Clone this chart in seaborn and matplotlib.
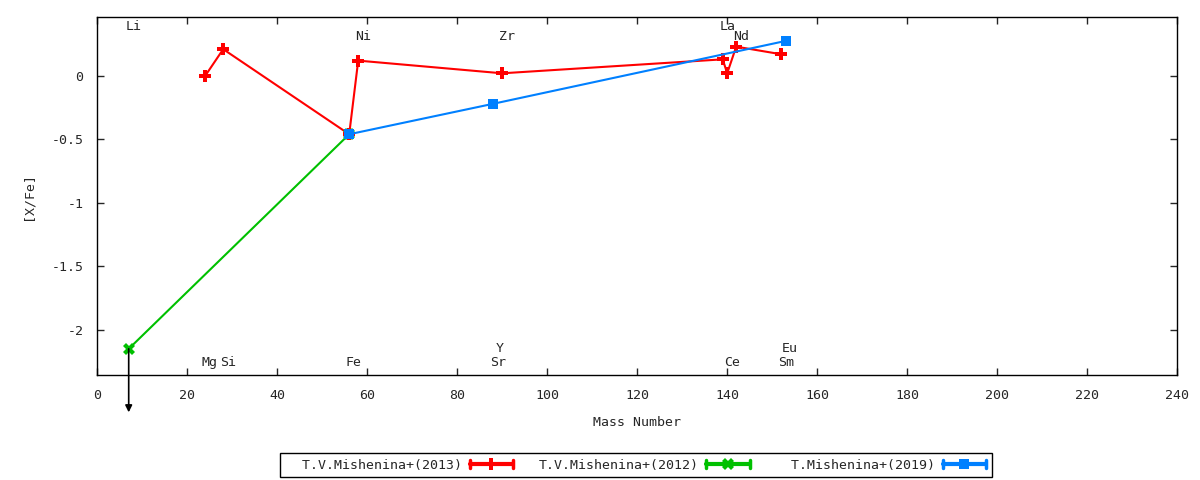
import matplotlib
matplotlib.use('Agg')
import matplotlib.pyplot as plt
import seaborn as sns
from matplotlib.lines import Line2D
from matplotlib.legend_handler import HandlerLine2D

# ---- data ----
mass_2013 = [24, 28, 56, 58, 90, 139, 140, 142, 152]
xfe_2013 = [0.0, 0.21, -0.46, 0.12, 0.02, 0.13, 0.02, 0.23, 0.17]

mass_2012 = [7, 56]
xfe_2012 = [-2.15, -0.46]

mass_2019 = [56, 88, 153]
xfe_2019 = [-0.46, -0.22, 0.275]

# upper limit arrow (Li)
limit_mass = 7
limit_xfe = -2.15
limit_end = -2.65

elem_names = ["Li", "Ni", "Zr", "La", "Nd", "Mg", "Si", "Fe", "Y", "Sr", "Ce", "Eu", "Sm"]
elem_x = [8, 59, 91, 140, 143, 25, 29, 57, 89.5, 89, 141, 154, 153]
elem_y = [0.385, 0.31, 0.31, 0.385, 0.31, -2.26, -2.26, -2.26, -2.15, -2.26, -2.26, -2.15, -2.26]

xticks = list(range(0, 241, 20))
yticks = [0, -0.5, -1, -1.5, -2]
ytick_labels = ["0", "-0.5", "-1", "-1.5", "-2"]


# gnuplot-like errorbar key sample: |---+---|
class CapHandler(HandlerLine2D):
    def create_artists(self, legend, orig_handle, xdescent, ydescent,
                       width, height, fontsize, trans):
        arts = super().create_artists(legend, orig_handle, xdescent, ydescent,
                                      width, height, fontsize, trans)
        for a in arts:
            a.set_linewidth(3)
        y = height / 2 - ydescent
        h = 0.3 * fontsize
        for x in (-xdescent, width - xdescent):
            arts.append(Line2D([x, x], [y - h, y + h], color=orig_handle.get_color(),
                               lw=2.5, transform=trans))
        return arts


sns.set_style("ticks", {"axes.edgecolor": "black", "xtick.direction": "in",
                        "ytick.direction": "in"})
plt.rcParams['font.family'] = ['DejaVu Sans Mono', 'DejaVu Sans']
plt.rcParams['axes.unicode_minus'] = False
FS = 9.5

fig = plt.figure(figsize=(12, 4.8), dpi=100)
ax = fig.add_axes([0.081, 0.219, 0.9, 0.746])

sns.lineplot(x=mass_2013, y=xfe_2013, ax=ax, sort=False, estimator=None,
             color="#ff0000", linewidth=1.5, marker="P", markersize=8,
             markeredgewidth=0, label="  T.V.Mishenina+(2013)")
sns.lineplot(x=mass_2012, y=xfe_2012, ax=ax, sort=False, estimator=None,
             color="#00c000", linewidth=1.5, marker="X", markersize=8,
             markeredgewidth=0, label="T.V.Mishenina+(2012)")
sns.lineplot(x=mass_2019, y=xfe_2019, ax=ax, sort=False, estimator=None,
             color="#0080ff", linewidth=1.5, marker="s", markersize=7,
             markeredgewidth=0, label="  T.Mishenina+(2019)")

ax.annotate("", xy=(limit_mass, limit_end), xytext=(limit_mass, limit_xfe),
            arrowprops=dict(arrowstyle="-|>", color="black", lw=1.2,
                            mutation_scale=10, shrinkA=0, shrinkB=0),
            annotation_clip=False)

for name, x, y in zip(elem_names, elem_x, elem_y):
    ax.text(x, y, name, ha="center", va="center", fontsize=FS)

ax.set_xlim(0, 240)
ax.set_ylim(-2.355, 0.465)
ax.set_xticks(xticks)
ax.set_yticks(yticks)
ax.set_yticklabels(ytick_labels)
ax.tick_params(axis="both", which="both", direction="in", length=5, width=1,
               top=True, right=True, labelsize=FS, pad=10)
ax.set_xlabel("Mass Number", fontsize=FS, labelpad=10)
ax.set_ylabel("[X/Fe]", fontsize=FS, labelpad=12)
for s in ax.spines.values():
    s.set_linewidth(1)
    s.set_color("black")

leg = ax.legend(loc="center", bbox_to_anchor=(0.53, 0.031),
                bbox_transform=fig.transFigure, ncol=3, markerfirst=False,
                frameon=True, fancybox=False, framealpha=1, edgecolor="black",
                fontsize=FS, handlelength=3.3, columnspacing=1.9,
                borderpad=0.4, handletextpad=0.6, handler_map={Line2D: CapHandler()})
leg.get_frame().set_linewidth(1)

fig.savefig("out.png", dpi=100)
